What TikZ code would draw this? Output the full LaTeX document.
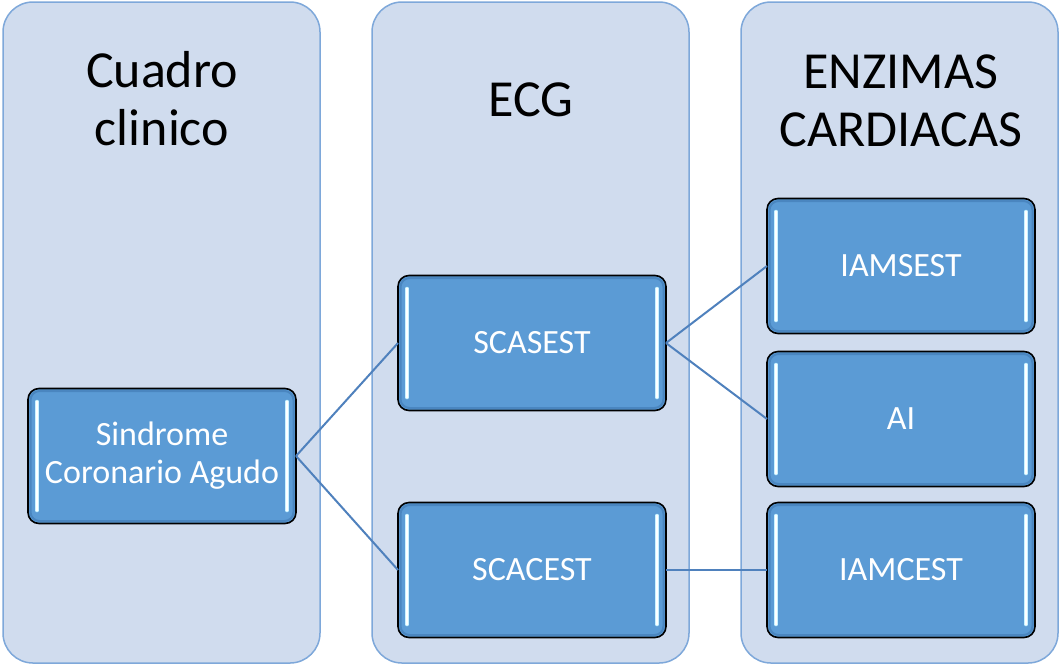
\documentclass[tikz,border=0pt]{standalone}
\usepackage{fontspec}
\setmainfont{Carlito}
\definecolor{panelfill}{HTML}{D0DCEE}
\definecolor{paneldraw}{HTML}{7EA8DA}
\definecolor{boxfill}{HTML}{5B9BD5}
\definecolor{boxedge}{HTML}{4A86C0}
\definecolor{linkcol}{HTML}{4F81BD}
\definecolor{glow}{HTML}{C8F2FF}
\newcommand\boxglow[1]{%
  \draw[inneredge] ([xshift=2.5pt,yshift=-2.5pt]#1.north west) rectangle ([xshift=-2.5pt,yshift=2.5pt]#1.south east);
  \draw[glowline] ([xshift=9pt,yshift=-13pt]#1.north west) -- ([xshift=9pt,yshift=13pt]#1.south west);
  \draw[glowline] ([xshift=-9pt,yshift=-13pt]#1.north east) -- ([xshift=-9pt,yshift=13pt]#1.south east);
  \draw[glowcore] ([xshift=9pt,yshift=-13pt]#1.north west) -- ([xshift=9pt,yshift=13pt]#1.south west);
  \draw[glowcore] ([xshift=-9pt,yshift=-13pt]#1.north east) -- ([xshift=-9pt,yshift=13pt]#1.south east);}
\begin{document}
\begin{tikzpicture}[x=1pt,y=-1pt,
  panel/.style={draw=paneldraw, line width=1.5pt, fill=panelfill, rounded corners=30pt,
    minimum width=317pt, minimum height=661pt, anchor=north west, inner sep=0pt, outer sep=0pt},
  header/.style={font=\fontsize{52}{58}\selectfont, align=center, anchor=base, inner sep=0pt},
  stage/.style={draw=black, line width=1.6pt, fill=boxfill, rounded corners=11pt,
    minimum width=268pt, minimum height=135pt, inner sep=0pt, outer sep=0pt,
    text=white, font=\fontsize{34}{38}\selectfont, align=center},
  inneredge/.style={draw=boxedge, line width=2pt, rounded corners=9pt},
  glowline/.style={draw=glow, line width=3.5pt, line cap=round},
  glowcore/.style={draw=white, line width=1.2pt, line cap=round},
  link/.style={draw=linkcol, line width=2pt}]
\useasboundingbox (0,0) rectangle (1059,665);
\fill[white] (0,0) rectangle (1059,665);
% panels
\node[panel] (p1) at (3,2) {};
\node[panel] (p2) at (372,2) {};
\node[panel] (p3) at (741,2) {};
% headers
\node[header] (h1) at (162,145) {Cuadro\\clinico};
\node[header] (h2) at (531,116) {ECG};
\node[header] (h3) at (901,146) {ENZIMAS\\CARDIACAS};
% boxes
\node[stage] (sca) at (162,456) {Sindrome\\Coronario Agudo};
\node[stage] (scasest) at (532,343) {SCASEST};
\node[stage] (scacest) at (532,570) {SCACEST};
\node[stage] (iamsest) at (901,266) {IAMSEST};
\node[stage] (ai) at (901,419) {AI};
\node[stage] (iamcest) at (901,570) {IAMCEST};
% glows
\boxglow{sca}
\boxglow{scasest}
\boxglow{scacest}
\boxglow{iamsest}
\boxglow{ai}
\boxglow{iamcest}
% links
\draw[link] (sca.east) -- (scasest.west);
\draw[link] (sca.east) -- (scacest.west);
\draw[link] (scasest.east) -- (iamsest.west);
\draw[link] (scasest.east) -- (ai.west);
\draw[link] (scacest.east) -- (iamcest.west);
\end{tikzpicture}
\end{document}
